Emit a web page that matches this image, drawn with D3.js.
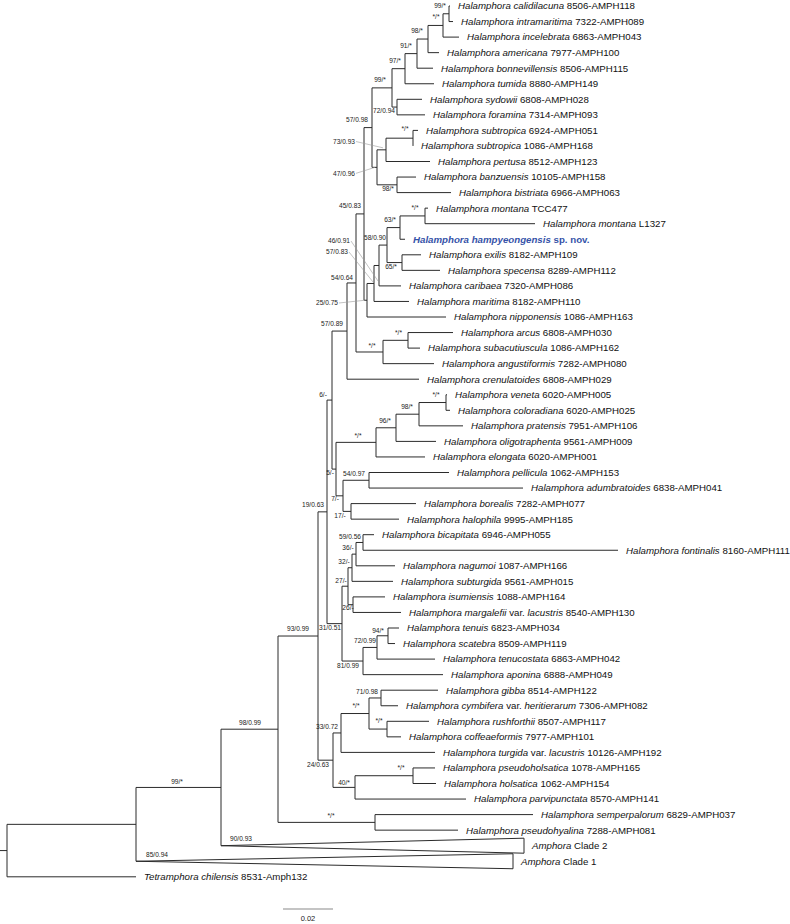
<!DOCTYPE html>
<html><head><meta charset="utf-8">
<script src="https://cdn.jsdelivr.net/npm/d3@7"></script>
<style>
html,body{margin:0;padding:0;background:#fff;}
svg{display:block;font-family:"Liberation Sans",Arial,Helvetica,sans-serif;}
</style></head>
<body><svg id="chart" width="790" height="924"></svg>
<script>
// ---- DATA ----
// tree edges: [node id, parent id, branch length (subst./site), support]
const tree = [
 ["root","",0,""],
 ["A","root",0.0516,""],
 ["B","A",0.0340,"99/*"],
 ["C","B",0.0228,"98/0.99"],
 ["D","C",0.0160,"93/0.99"],
 ["V","D",0.0036,"19/0.63"],
 ["Q6","V",0.0020,"6/-"],
 ["U","Q6",0.0060,"57/0.89"],
 ["X","U",0.0036,"54/0.64"],
 ["S","X",0.0032,"45/0.83"],
 ["N8","S",0.0032,"57/0.98"],
 ["N6","N8",0.0080,"99/*"],
 ["N5","N6",0.0052,"97/*"],
 ["N4","N5",0.0048,"91/*"],
 ["N3","N4",0.0044,"98/*"],
 ["N2","N3",0.0060,"*/*"],
 ["N1","N2",0.0024,"99/*"],
 ["t0","N1",0.0004,""],
 ["t1","N1",0.0016,""],
 ["t2","N2",0.0064,""],
 ["t3","N3",0.0044,""],
 ["t4","N4",0.0064,""],
 ["t5","N5",0.0116,""],
 ["N7","N6",0.0020,"72/0.94"],
 ["t6","N7",0.0100,""],
 ["t7","N7",0.0112,""],
 ["N12","N8",0.0020,"47/0.96"],
 ["N11","N12",0.0036,"73/0.93"],
 ["N10","N11",0.0108,"*/*"],
 ["t8","N10",0.0020,""],
 ["t9","N10",0.0000,""],
 ["t10","N11",0.0176,""],
 ["N13","N12",0.0080,"98/*"],
 ["t11","N13",0.0076,""],
 ["t12","N13",0.0216,""],
 ["T","S",0.0012,"25/0.75"],
 ["N20","T",0.0028,"57/0.83"],
 ["N19","N20",0.0020,"46/0.91"],
 ["N18","N19",0.0032,"58/0.90"],
 ["N15","N18",0.0052,"63/*"],
 ["N16","N15",0.0100,"*/*"],
 ["t13","N16",0.0012,""],
 ["t14","N16",0.0440,""],
 ["t15","N15",0.0020,""],
 ["N17","N18",0.0060,"65/*"],
 ["t16","N17",0.0076,""],
 ["t17","N17",0.0152,""],
 ["t18","N19",0.0088,""],
 ["t19","N20",0.0140,""],
 ["t20","T",0.0316,""],
 ["N23","X",0.0108,"*/*"],
 ["N22","N23",0.0100,"*/*"],
 ["t21","N22",0.0180,""],
 ["t22","N22",0.0048,""],
 ["t23","N23",0.0204,""],
 ["t24","U",0.0288,""],
 ["Q5","Q6",0.0016,"5/-"],
 ["N27","Q5",0.0160,"*/*"],
 ["N26","N27",0.0080,"96/*"],
 ["N25","N26",0.0092,"98/*"],
 ["N24","N25",0.0108,"*/*"],
 ["t25","N24",0.0004,""],
 ["t26","N24",0.0016,""],
 ["t27","N25",0.0176,""],
 ["t28","N26",0.0160,""],
 ["t29","N27",0.0196,""],
 ["Q7","Q5",0.0028,"7/-"],
 ["N28","Q7",0.0104,"54/0.97"],
 ["t30","N28",0.0320,""],
 ["t31","N28",0.0616,""],
 ["Q17","Q7",0.0032,"17/-"],
 ["t32","Q17",0.0260,""],
 ["t33","Q17",0.0192,""],
 ["W","V",0.0060,"31/0.51"],
 ["Q27","W",0.0024,"27/-"],
 ["Q32","Q27",0.0016,"32/-"],
 ["Q36","Q32",0.0016,"36/-"],
 ["Q59","Q36",0.0028,"59/0.56"],
 ["t34","Q59",0.0044,""],
 ["t35","Q59",0.1020,""],
 ["t36","Q36",0.0156,""],
 ["t37","Q32",0.0164,""],
 ["Q26","Q27",0.0020,"26/-"],
 ["t38","Q26",0.0128,""],
 ["t39","Q26",0.0192,""],
 ["Z","W",0.0084,"81/0.99"],
 ["Q72","Z",0.0056,"72/0.99"],
 ["Q94","Q72",0.0044,"94/*"],
 ["t40","Q94",0.0044,""],
 ["t41","Q94",0.0028,""],
 ["t42","Q72",0.0232,""],
 ["t43","Z",0.0320,""],
 ["G","D",0.0060,"24/0.63"],
 ["H","G",0.0032,"33/0.72"],
 ["K","H",0.0112,"*/*"],
 ["L","K",0.0048,"71/0.98"],
 ["t44","L",0.0228,""],
 ["t45","L",0.0068,""],
 ["M","K",0.0072,"*/*"],
 ["t46","M",0.0168,""],
 ["t47","M",0.0056,""],
 ["t48","H",0.0376,""],
 ["I","G",0.0088,"40/*"],
 ["J","I",0.0232,"*/*"],
 ["t49","J",0.0088,""],
 ["t50","J",0.0092,""],
 ["t51","I",0.0444,""],
 ["E","C",0.0388,"*/*"],
 ["t52","E",0.0632,""],
 ["t53","E",0.0332,""],
 ["t54","B",0.1212,"90/0.93"],
 ["t55","A",0.1508,"85/0.94"],
 ["t56","root",0.0516,""]
];

// tip labels (text between * * is italic), in tree order t0..t56
const tipLabels = [
 "*Halamphora calidilacuna* 8506-AMPH118",
 "*Halamphora intramaritima* 7322-AMPH089",
 "*Halamphora incelebrata* 6863-AMPH043",
 "*Halamphora americana* 7977-AMPH100",
 "*Halamphora bonnevillensis* 8506-AMPH115",
 "*Halamphora tumida* 8880-AMPH149",
 "*Halamphora sydowii* 6808-AMPH028",
 "*Halamphora foramina* 7314-AMPH093",
 "*Halamphora subtropica* 6924-AMPH051",
 "*Halamphora subtropica* 1086-AMPH168",
 "*Halamphora pertusa* 8512-AMPH123",
 "*Halamphora banzuensis* 10105-AMPH158",
 "*Halamphora bistriata* 6966-AMPH063",
 "*Halamphora montana* TCC477",
 "*Halamphora montana* L1327",
 "*Halamphora hampyeongensis* sp. nov.",
 "*Halamphora exilis* 8182-AMPH109",
 "*Halamphora specensa* 8289-AMPH112",
 "*Halamphora caribaea* 7320-AMPH086",
 "*Halamphora maritima* 8182-AMPH110",
 "*Halamphora nipponensis* 1086-AMPH163",
 "*Halamphora arcus* 6808-AMPH030",
 "*Halamphora subacutiuscula* 1086-AMPH162",
 "*Halamphora angustiformis* 7282-AMPH080",
 "*Halamphora crenulatoides* 6808-AMPH029",
 "*Halamphora veneta* 6020-AMPH005",
 "*Halamphora coloradiana* 6020-AMPH025",
 "*Halamphora pratensis* 7951-AMPH106",
 "*Halamphora oligotraphenta* 9561-AMPH009",
 "*Halamphora elongata* 6020-AMPH001",
 "*Halamphora pellicula* 1062-AMPH153",
 "*Halamphora adumbratoides* 6838-AMPH041",
 "*Halamphora borealis* 7282-AMPH077",
 "*Halamphora halophila* 9995-AMPH185",
 "*Halamphora bicapitata* 6946-AMPH055",
 "*Halamphora fontinalis* 8160-AMPH111",
 "*Halamphora nagumoi* 1087-AMPH166",
 "*Halamphora subturgida* 9561-AMPH015",
 "*Halamphora isumiensis* 1088-AMPH164",
 "*Halamphora margalefii* var. *lacustris* 8540-AMPH130",
 "*Halamphora tenuis* 6823-AMPH034",
 "*Halamphora scatebra* 8509-AMPH119",
 "*Halamphora tenucostata* 6863-AMPH042",
 "*Halamphora aponina* 6888-AMPH049",
 "*Halamphora gibba* 8514-AMPH122",
 "*Halamphora cymbifera* var. *heritierarum* 7306-AMPH082",
 "*Halamphora rushforthii* 8507-AMPH117",
 "*Halamphora coffeaeformis* 7977-AMPH101",
 "*Halamphora turgida* var. *lacustris* 10126-AMPH192",
 "*Halamphora pseudoholsatica* 1078-AMPH165",
 "*Halamphora holsatica* 1062-AMPH154",
 "*Halamphora parvipunctata* 8570-AMPH141",
 "*Halamphora semperpalorum* 6829-AMPH037",
 "*Halamphora pseudohyalina* 7288-AMPH081",
 "*Amphora* Clade 2",
 "*Amphora* Clade 1",
 "*Tetramphora chilensis* 8531-Amph132"
];
const collapsedTips = ["t54","t55"];
const highlightTips = ["t15"];
const scaleBarValue = 0.02;
const scaleBarLabel = "0.02";

// ---- LAYOUT / STYLE (support label placement relative to node) ----
const labelPos = {
 N1:[-9,-7.8], N2:[-7,-8.4], N3:[-11,-8], N4:[-11,-7.6], N5:[-10,-7.7], N6:[-12,-8],
 N7:[-13,4], N8:[-15,-7.5], N10:[-8,-9], N11:[-42,-8.3,-3,-2], N12:[-33,6,-2,0],
 N13:[-9,3.5], S:[-14,-8], N16:[-10,-8], N15:[-10,-7.6], N17:[-11,4.4], N18:[-12,-7],
 N19:[-40,-24.5,-1,15.5], N20:[-37,-31.5,-1,-1.5], T:[-40,2.75,-2,0], X:[-14,-5.5],
 N22:[-9.5,-7.3], N23:[-11,-6], U:[-15,-7], Q6:[-9,-5], N24:[-10,-7.5], N25:[-12,-7],
 N26:[-11,-7], N27:[-18,-6.4], Q5:[-6,4], N28:[-15,-7], Q7:[-8,3], Q17:[-11,4.5],
 V:[-14,-7.5], Q59:[-13,-5.5], Q36:[-8,-6], Q32:[-8,-5.7], Q27:[-7,-6], Q26:[-5,3.3],
 W:[-12,4.4], Q94:[-10,-5], Q72:[-12,-6.4], Z:[-15,5], D:[-20,-7.5], L:[-14,-6],
 K:[-13,-7.5], M:[-8,-8], H:[-14,-6], J:[-12,-7.7], I:[-11,-5], G:[-15,5], E:[-44,-6.4],
 C:[-28,-7], B:[-44,-6], t54:[20,-6.7], t55:[21,-6.25]
};

const svg = d3.select("#chart");
const root = d3.stratify().id(d=>d[0]).parentId(d=>d[1] || null)(tree);
root.eachBefore(d => { d.len = d.parent ? d.parent.len + d.data[2] : 0; });

const x = d3.scaleLinear().domain([0, scaleBarValue]).range([7, 57]);
const leaves = root.leaves();
const y = d3.scaleLinear().domain([0, leaves.length-1]).range([6, 876.8]);
leaves.forEach((d,i)=>{ d.yy = y(i); d.tip = +d.id.slice(1); });
root.eachAfter(d => { if (d.children) d.yy = (d.children[0].yy + d.children[d.children.length-1].yy)/2; });

const LC = "#2b2b2b";
const g = svg.append("g");
// root stub
g.append("line").attr("x1",0).attr("x2",x(0)).attr("y1",root.yy).attr("y2",root.yy)
 .attr("stroke",LC).attr("stroke-width",1);

const nodes = root.descendants();
// horizontal branches
g.selectAll("line.h").data(nodes.filter(d=>d.parent && !collapsedTips.includes(d.id)))
 .join("line").attr("class","h")
 .attr("x1",d=>x(d.parent.len)).attr("x2",d=>x(d.len))
 .attr("y1",d=>d.yy).attr("y2",d=>d.yy)
 .attr("stroke",LC).attr("stroke-width",1);
// vertical connectors
g.selectAll("line.v").data(nodes.filter(d=>d.children))
 .join("line").attr("class","v")
 .attr("x1",d=>x(d.len)).attr("x2",d=>x(d.len))
 .attr("y1",d=>d.children[0].yy).attr("y2",d=>d.children[d.children.length-1].yy)
 .attr("stroke",LC).attr("stroke-width",1);
// collapsed clades as triangles
g.selectAll("path.tri").data(nodes.filter(d=>collapsedTips.includes(d.id)))
 .join("path").attr("class","tri")
 .attr("d",d=>{const ax=x(d.parent.len), bx=x(d.len);
   return d3.line()([[ax,d.yy],[bx,d.yy-7.5],[bx,d.yy+7.5],[ax,d.yy]]);})
 .attr("fill","none").attr("stroke",LC).attr("stroke-width",1);

// tip labels
const tips = g.selectAll("text.tip").data(leaves).join("text").attr("class","tip")
 .attr("x",d=>x(d.len)+8).attr("y",d=>d.yy).attr("dy","0.35em")
 .attr("font-size",9.7)
 .attr("fill",d=>highlightTips.includes(d.id) ? "#3552a8" : "#111")
 .attr("font-weight",d=>highlightTips.includes(d.id) ? "bold" : "normal");
tips.each(function(d){
  const parts = tipLabels[d.tip].split("*");
  const t = d3.select(this);
  parts.forEach((p,i)=>{ if(p.length) t.append("tspan").text(p).attr("font-style", i%2 ? "italic" : "normal"); });
});

// support labels
const sup = nodes.filter(d=>d.data[3] && labelPos[d.id]);
sup.forEach(d=>{
  const p = labelPos[d.id];
  const nx = collapsedTips.includes(d.id) ? x(d.parent.len) : x(d.len);
  const cx = nx + p[0], cy = d.yy + p[1];
  const t = g.append("text").attr("x",cx).attr("y",cy).attr("dy","0.35em")
   .attr("text-anchor","middle").attr("font-size",6.6).attr("fill","#222").text(d.data[3]);
  if (p.length > 2) {
    const w = t.node().getComputedTextLength();
    g.append("line").attr("x1",cx + w/2 + 1).attr("y1",cy)
     .attr("x2",nx + p[2]).attr("y2",d.yy + p[3])
     .attr("stroke","#9a9a9a").attr("stroke-width",0.6);
  }
});

// scale bar
const sbx = 283, sby = 909;
svg.append("line").attr("x1",sbx).attr("x2",sbx + x(scaleBarValue) - x(0))
 .attr("y1",sby).attr("y2",sby).attr("stroke","#b0b0b0").attr("stroke-width",1.5);
svg.append("text").attr("x",sbx + (x(scaleBarValue)-x(0))/2).attr("y",918).attr("dy","0.35em")
 .attr("text-anchor","middle").attr("font-size",7.5).attr("fill","#222").text(scaleBarLabel);
</script></body></html>
